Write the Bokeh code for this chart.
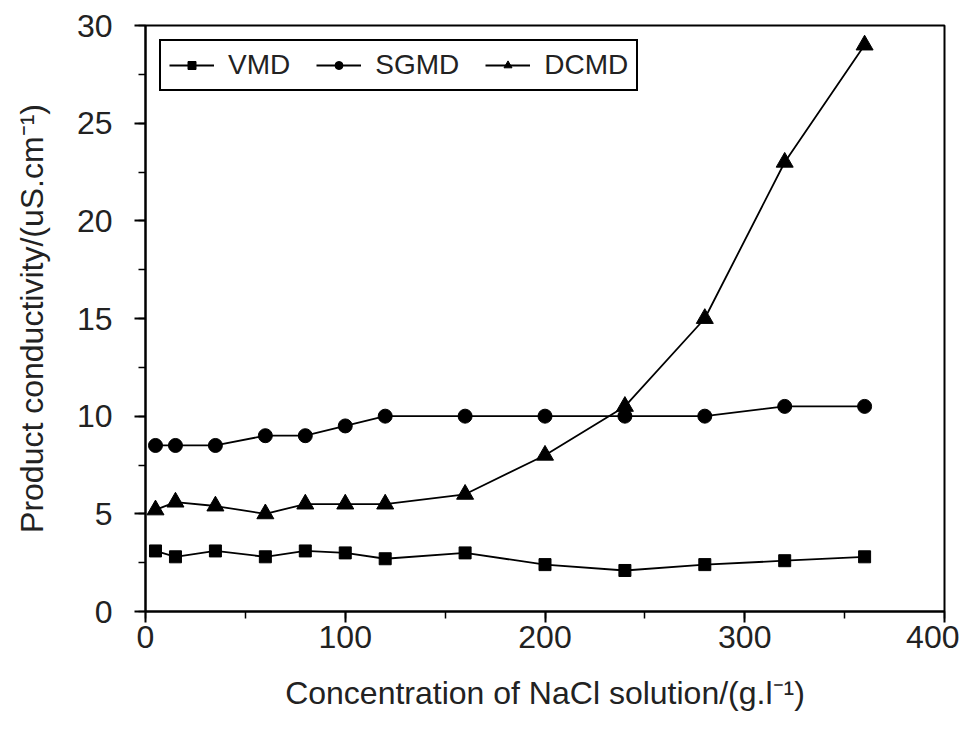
from bokeh.plotting import figure
from bokeh.models import SingleIntervalTicker, Range1d, Legend, LegendItem
from bokeh.embed import file_html
from bokeh.resources import INLINE

conc = [5, 15, 35, 60, 80, 100, 120, 160, 200, 240, 280, 320, 360]
vmd = [3.1, 2.8, 3.1, 2.8, 3.1, 3.0, 2.7, 3.0, 2.4, 2.1, 2.4, 2.6, 2.8]
sgmd = [8.5, 8.5, 8.5, 9.0, 9.0, 9.5, 10.0, 10.0, 10.0, 10.0, 10.0, 10.5, 10.5]
dcmd = [5.2, 5.6, 5.4, 5.0, 5.5, 5.5, 5.5, 6.0, 8.0, 10.5, 15.0, 23.0, 29.0]

FONT = "Liberation Sans"

p = figure(width=959, height=713, output_backend="svg", toolbar_location=None,
           x_range=Range1d(0, 400), y_range=Range1d(0, 30),
           min_border_left=145, min_border_right=15, min_border_top=25, min_border_bottom=100)

p.xgrid.visible = False
p.ygrid.visible = False
p.outline_line_color = "black"
p.outline_line_width = 2
p.outline_line_alpha = 1.0
p.background_fill_color = "white"
p.border_fill_color = "white"

r1l = p.line(conc, vmd, line_color="black", line_width=1.8)
r1m = p.scatter(conc, vmd, marker="square", size=12, fill_color="black", line_color="black")
r2l = p.line(conc, sgmd, line_color="black", line_width=1.8)
r2m = p.scatter(conc, sgmd, marker="circle", size=14, fill_color="black", line_color="black")
r3l = p.line(conc, dcmd, line_color="black", line_width=1.8)
r3m = p.scatter(conc, dcmd, marker="triangle", size=17, fill_color="black", line_color="black")

legend = Legend(items=[
    LegendItem(label="VMD", renderers=[r1l, r1m]),
    LegendItem(label="SGMD", renderers=[r2l, r2m]),
    LegendItem(label="DCMD", renderers=[r3l, r3m]),
], location="top_left", orientation="horizontal")
legend.label_text_font = FONT
legend.label_text_font_size = "28px"
legend.label_text_color = "#222222"
legend.label_standoff = 14
legend.glyph_width = 45
legend.glyph_height = 20
legend.spacing = 26
legend.padding = 8
legend.margin = 14
legend.border_line_color = "black"
legend.border_line_width = 2
legend.border_line_alpha = 1.0
legend.background_fill_alpha = 1.0
p.add_layout(legend)

p.xaxis.ticker = SingleIntervalTicker(interval=100, num_minor_ticks=2)
p.yaxis.ticker = SingleIntervalTicker(interval=5, num_minor_ticks=2)

for ax in (p.xaxis, p.yaxis):
    ax.axis_line_color = "black"
    ax.axis_line_width = 2
    ax.major_tick_line_color = "black"
    ax.major_tick_line_width = 2
    ax.minor_tick_line_color = "black"
    ax.minor_tick_line_width = 1.5
    ax.major_tick_in = 0
    ax.major_tick_out = 11
    ax.minor_tick_in = 0
    ax.minor_tick_out = 7
    ax.major_label_text_font = FONT
    ax.major_label_text_font_size = "32px"
    ax.major_label_text_color = "#222222"
    ax.axis_label_text_font = FONT
    ax.axis_label_text_font_size = "32px"
    ax.axis_label_text_font_style = "normal"
    ax.axis_label_text_color = "#222222"

p.xaxis.axis_label = "Concentration of NaCl solution/(g.l\u207b\u00b9)"
p.yaxis.axis_label = "Product conductivity/(uS.cm\u207b\u00b9)"
p.xaxis.major_label_standoff = 3
p.yaxis.major_label_standoff = 22
p.xaxis.axis_label_standoff = 24
p.yaxis.axis_label_standoff = 24

open("out.html", "w").write(file_html(p, INLINE))
